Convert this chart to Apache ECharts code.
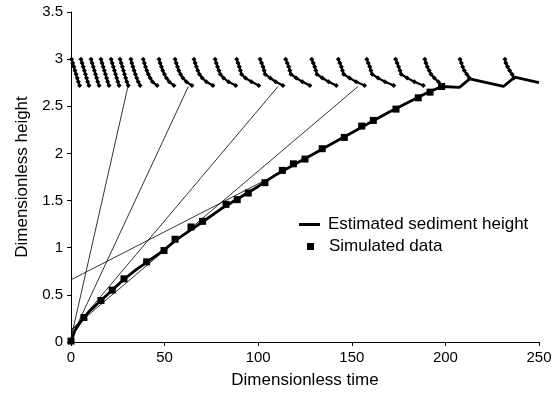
<!DOCTYPE html>
<html>
<head>
<meta charset="utf-8">
<script src="https://cdn.jsdelivr.net/npm/echarts@6/dist/echarts.min.js"></script>
<style>
  html, body { margin: 0; padding: 0; background: #fff; }
  #chart { width: 557px; height: 394px; }
</style>
</head>
<body>
<div id="chart"></div>
<script>
// estimated sediment height (thick curve)
var estX = [0, 2, 5, 10, 16, 22, 28, 35, 40, 50, 56, 64, 70, 80, 90, 100, 110, 120, 130, 140, 150, 160, 170, 180, 190, 198, 207.5, 213, 231, 237, 250];
var estY = [0, 0.12, 0.21, 0.33, 0.44, 0.55, 0.66, 0.77, 0.84, 0.98, 1.08, 1.19, 1.27, 1.41, 1.53, 1.65, 1.78, 1.89, 2.0, 2.11, 2.22, 2.33, 2.44, 2.54, 2.64, 2.71, 2.70, 2.79, 2.71, 2.81, 2.75];

// simulated data (squares)
var simX = [0, 6.9, 16, 22, 28.3, 40.4, 49.7, 55.6, 64.1, 70.3, 82.8, 88.8, 94.7, 103.6, 112.9, 118.8, 125, 134.2, 146, 155.3, 161.5, 173.6, 185.5, 191.8, 198];
var simY = [0.01, 0.26, 0.44, 0.55, 0.67, 0.85, 0.97, 1.09, 1.22, 1.28, 1.46, 1.51, 1.58, 1.69, 1.82, 1.89, 1.94, 2.05, 2.17, 2.29, 2.35, 2.47, 2.59, 2.65, 2.71];

// thin straight lines
var rayStartY = [0.04, 0.04, 0.11, 0.13, 0.66];
var rayEndX = [30.4, 62.7, 110.6, 153.3, 112];
var rayEndY = [2.71, 2.71, 2.71, 2.71, 1.80];

// characteristic curves at the top: x read at each height level
var charLevels = [3.0, 2.96, 2.92, 2.88, 2.84, 2.80, 2.76, 2.72];
var charX = [
  [0.3, 0.9, 1.5, 2.1, 2.7, 3.3, 3.9, 4.6],
  [5.3, 5.9, 6.5, 7.1, 7.7, 8.3, 8.9, 9.6],
  [10.7, 11.3, 11.9, 12.5, 13.1, 13.7, 14.3, 15.0],
  [16.0, 16.6, 17.2, 17.8, 18.4, 19.0, 19.6, 20.3],
  [21.4, 22.0, 22.6, 23.2, 23.8, 24.4, 25.0, 25.7],
  [26.2, 26.8, 27.4, 28.0, 28.6, 29.2, 29.8, 30.6],
  [32.0, 32.5, 33.1, 33.7, 34.4, 35.1, 35.9, 36.9],
  [38.6, 39.2, 39.8, 40.5, 41.3, 42.3, 43.5, 46.0],
  [47.0, 47.6, 48.3, 49.0, 49.9, 51.0, 52.5, 55.0],
  [55.6, 56.2, 56.9, 57.6, 58.5, 59.8, 61.6, 64.6],
  [65.7, 66.3, 67.0, 67.7, 68.6, 70.1, 72.3, 75.8],
  [77.0, 77.6, 78.3, 79.0, 79.8, 81.5, 84.1, 88.0],
  [88.5, 89.2, 89.9, 90.5, 91.1, 93.2, 96.4, 100.3],
  [101.0, 101.8, 102.6, 103.2, 103.7, 106.4, 109.3, 113.2],
  [114.7, 115.5, 116.3, 116.9, 117.5, 120.3, 123.6, 127.6],
  [128.6, 129.4, 130.2, 130.8, 131.4, 134.3, 137.6, 141.7],
  [142.8, 143.6, 144.4, 145.0, 145.7, 148.8, 152.3, 156.8],
  [158.0, 158.8, 159.6, 160.2, 160.9, 164.0, 167.7, 172.4],
  [173.4, 174.2, 175.0, 175.7, 176.4, 179.6, 183.4, 188.2],
  [189.0, 189.6, 190.3, 191.3, 192.3, 194.1, 196.2, 198.5],
  [207.8, 208.5, 209.2, 210.1, 211.4, 212.8],
  [231.8, 232.3, 233.2, 234.3, 235.6, 236.6]
];

var xTicks = [0, 50, 100, 150, 200, 250];
var yTicks = [0, 0.5, 1, 1.5, 2, 2.5, 3, 3.5];

function pairs(xs, ys) {
  var out = [];
  for (var i = 0; i < xs.length; i++) out.push([xs[i], ys[i]]);
  return out;
}

var series = [];

for (var r = 0; r < rayEndX.length; r++) {
  series.push({
    type: "line",
    silent: true,
    showSymbol: false,
    symbol: "none",
    z: 1,
    lineStyle: { color: "#000", width: 0.8 },
    data: [[0, rayStartY[r]], [rayEndX[r], rayEndY[r]]]
  });
}

for (var c = 0; c < charX.length; c++) {
  series.push({
    type: "line",
    silent: true,
    symbol: "diamond",
    symbolSize: 5,
    z: 3,
    itemStyle: { color: "#000", opacity: 1 },
    lineStyle: { color: "#000", width: 2.2 },
    data: pairs(charX[c], charLevels)
  });
}

series.push({
  name: "Estimated sediment height",
  type: "line",
  symbol: "none",
  z: 4,
  lineStyle: { color: "#000", width: 2.8 },
  itemStyle: { color: "#000" },
  data: pairs(estX, estY)
});

series.push({
  name: "Simulated data",
  type: "scatter",
  symbol: "rect",
  symbolSize: 7,
  z: 5,
  itemStyle: { color: "#000", opacity: 1 },
  data: pairs(simX, simY)
});

var chart = echarts.init(document.getElementById("chart"), null, { renderer: "canvas" });

var option = {
  animation: false,
  backgroundColor: "#fff",
  textStyle: { fontFamily: "Liberation Sans, Arial, sans-serif", color: "#000" },
  grid: { left: 71, right: 18, top: 12, bottom: 52 },
  legend: [
    {
      data: [{ name: "Estimated sediment height", icon: "rect", itemStyle: { opacity: 1 } }],
      left: 294, top: 211,
      itemWidth: 21, itemHeight: 3,
      textStyle: { fontSize: 17, color: "#000", padding: [0, 0, 0, 3] },
      selectedMode: false
    },
    {
      data: [{ name: "Simulated data", icon: "rect", itemStyle: { opacity: 1 } }],
      left: 302, top: 233,
      itemWidth: 7, itemHeight: 7,
      textStyle: { fontSize: 17, color: "#000", padding: [0, 0, 0, 10] },
      selectedMode: false
    }
  ],
  xAxis: {
    type: "value",
    min: 0, max: 250, interval: 50,
    name: "Dimensionless time",
    nameLocation: "middle",
    nameGap: 30,
    nameTextStyle: { fontSize: 17, color: "#000" },
    axisLine: { lineStyle: { color: "#000", width: 1 } },
    axisTick: { show: true, length: 4, lineStyle: { color: "#000" } },
    axisLabel: { fontSize: 15, color: "#000", margin: 8,
      formatter: function (v) { return xTicks.indexOf(v) >= 0 ? String(v) : ""; } },
    splitLine: { show: false }
  },
  yAxis: {
    type: "value",
    min: 0, max: 3.5, interval: 0.5,
    name: "Dimensionless height",
    nameLocation: "middle",
    nameGap: 40,
    nameTextStyle: { fontSize: 17, color: "#000" },
    axisLine: { show: true, lineStyle: { color: "#000", width: 1 } },
    axisTick: { show: true, length: 4, lineStyle: { color: "#000" } },
    axisLabel: { fontSize: 15, color: "#000", margin: 8,
      formatter: function (v) { return yTicks.indexOf(v) >= 0 ? String(v) : ""; } },
    splitLine: { show: false }
  },
  series: series
};

option && chart.setOption(option);
</script>
</body>
</html>
